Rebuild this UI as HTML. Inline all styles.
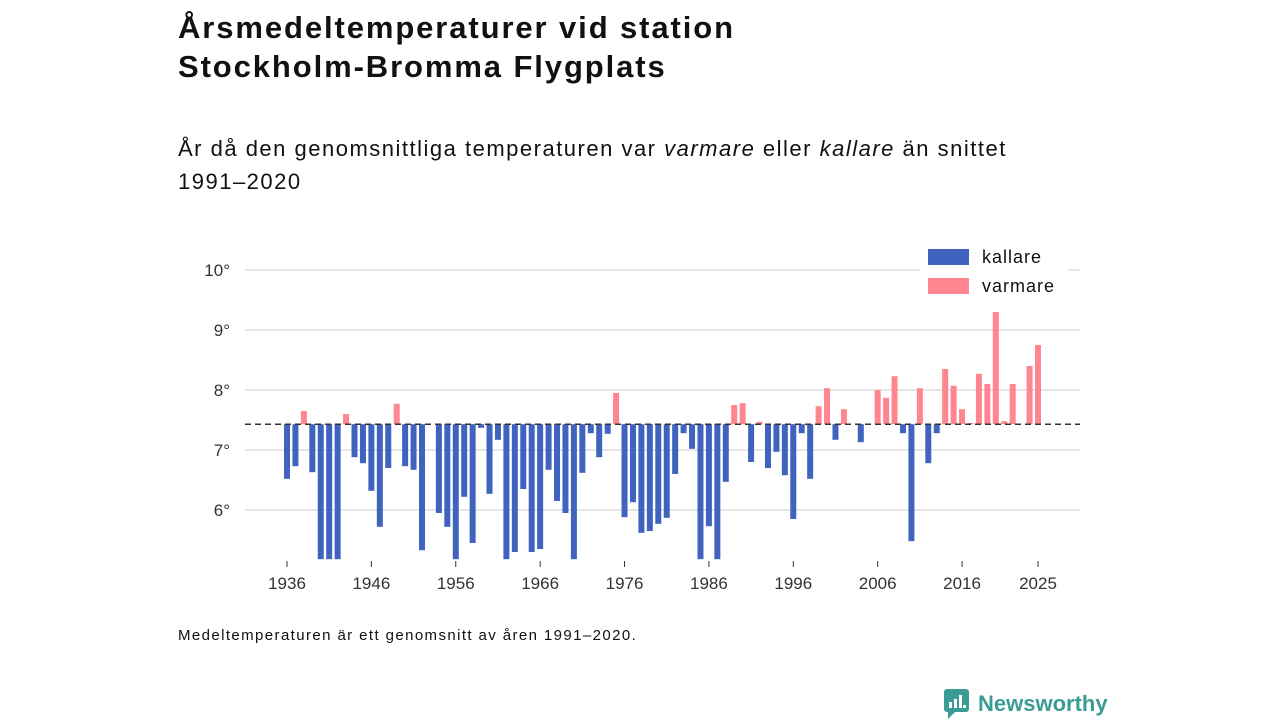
<!DOCTYPE html>
<html><head><meta charset="utf-8"><style>
body{margin:0;width:1280px;height:720px;background:#fff;font-family:"Liberation Sans",sans-serif;color:#111;position:relative;overflow:hidden}
.t{position:absolute;left:178px;top:8px;font-size:31px;font-weight:bold;line-height:39px;letter-spacing:1.9px}
.s{position:absolute;left:178px;top:132px;font-size:22px;line-height:33px;letter-spacing:1.5px}
.n{position:absolute;left:178px;top:627px;font-size:15px;letter-spacing:1.4px}
.logo{position:absolute;left:944px;top:689px;display:flex;align-items:center;color:#3a9c94;font-weight:bold;font-size:22px}
</style></head><body>
<div class="t">Årsmedeltemperaturer vid station<br>Stockholm-Bromma Flygplats</div>
<div class="s">År då den genomsnittliga temperaturen var <i>varmare</i> eller <i>kallare</i> än snittet<br>1991–2020</div>
<svg id="chart" width="1280" height="720" style="position:absolute;left:0;top:0"></svg>
<div class="n">Medeltemperaturen är ett genomsnitt av åren 1991–2020.</div>
<div class="logo"><svg width="26" height="30" viewBox="0 0 26 30"><rect x="0" y="0" width="25" height="23" rx="3" fill="#3a9c94"/><path d="M4 23 L4 30 L11 23Z" fill="#3a9c94"/><rect x="5" y="13" width="3" height="6" fill="#fff"/><rect x="10" y="10" width="3" height="9" fill="#fff"/><rect x="15" y="6" width="3" height="13" fill="#fff"/><rect x="19" y="16" width="3" height="3" fill="#fff"/></svg><span style="margin-left:8px">Newsworthy</span></div>
<script>
const years=[];for(let y=1936;y<=2025;y++)years.push(y);
const temps=[6.52,6.73,7.65,6.63,5.1,5.1,5.1,7.6,6.88,6.78,6.32,5.72,6.7,7.77,6.73,6.67,5.33,null,5.95,5.72,5.1,6.22,5.45,7.37,6.27,7.17,5.1,5.3,6.35,5.3,5.35,6.67,6.15,5.95,5.1,6.62,7.28,6.88,7.27,7.95,5.88,6.13,5.62,5.65,5.77,5.87,6.6,7.28,7.02,5.1,5.73,5.1,6.47,7.75,7.78,6.8,7.47,6.7,6.97,6.58,5.85,7.28,6.52,7.73,8.03,7.17,7.68,null,7.13,null,8.0,7.87,8.23,7.28,5.48,8.03,6.78,7.28,8.35,8.07,7.68,7.45,8.27,8.1,9.3,7.48,8.1,null,8.4,8.75];
const mean=7.43;
const yTicks=[6,7,8,9,10];
const xTicks=[1936,1946,1956,1966,1976,1986,1996,2006,2016,2025];
const NS="http://www.w3.org/2000/svg",svg=document.getElementById('chart');
const X=y=>287+(y-1936)*(751/89);
const Y=v=>270+(10-v)*60;
function el(t,a,txt){const e=document.createElementNS(NS,t);for(const k in a)e.setAttribute(k,a[k]);if(txt!=null)e.textContent=txt;svg.appendChild(e);return e;}
yTicks.forEach(v=>{
 const g=el('line',{x1:245,x2:1080,y1:Y(v),y2:Y(v),stroke:'#ddd','stroke-width':1.5});
 
 
 const t=el('text',{x:230,y:Y(v)+6,'text-anchor':'end','font-size':17,fill:'#333','font-family':'Liberation Sans'},v+'°');
 
 
});
const clipY=Y(5.18);
years.forEach((yr,i)=>{
 const v=temps[i];if(v==null)return;
 const top=Math.min(Y(v),Y(mean)),bot=Math.min(Math.max(Y(v),Y(mean)),clipY);
 const r=el('rect',{x:X(yr)-3,y:top,width:6,height:Math.max(bot-top,1),fill:v>=mean?'#ff8591':'#3f63bf'});
 
 
});
const ml=el('line',{x1:245,x2:1080,y1:Y(mean),y2:Y(mean),stroke:'#333','stroke-width':1.5,'stroke-dasharray':'6,4'});


xTicks.forEach(yr=>{
 const l=el('line',{x1:X(yr),x2:X(yr),y1:561,y2:567,stroke:'#333','stroke-width':1});
 
 
 const t=el('text',{x:X(yr),y:589,'text-anchor':'middle','font-size':17,fill:'#333','font-family':'Liberation Sans'},yr);
 
 
});
const lb=el('rect',{x:920,y:243,width:148,height:58,fill:'#fff'});


[['kallare','#3f63bf',249],['varmare','#ff8591',278]].forEach(([n,c,y])=>{
 const r=el('rect',{x:928,y:y,width:41,height:16,fill:c});
 
 
 const t=el('text',{x:982,y:y+14,'font-size':18,fill:'#111','font-family':'Liberation Sans','letter-spacing':1},n);
 
 
});
</script>
</body></html>
